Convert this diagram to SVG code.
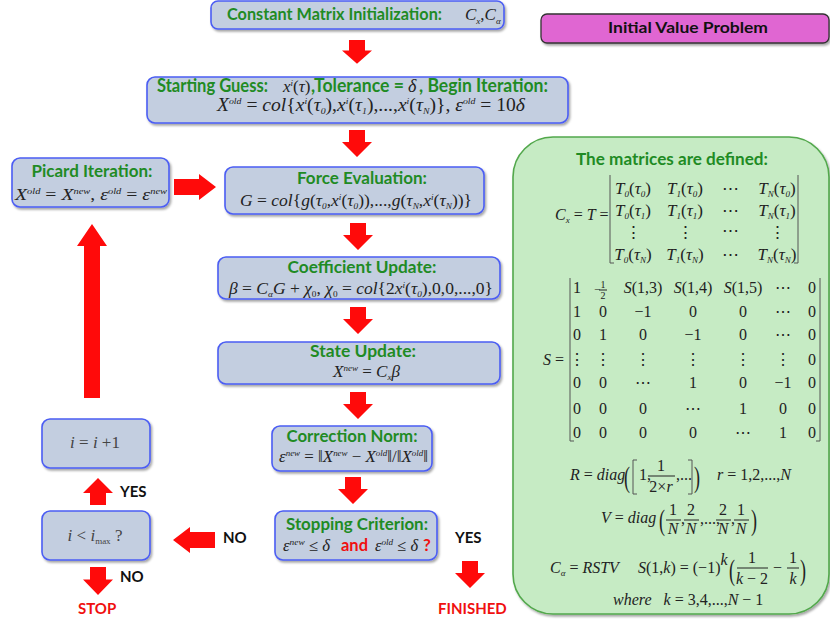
<svg xmlns="http://www.w3.org/2000/svg" width="830" height="621" viewBox="0 0 830 621">
<defs>
<filter id="sh" x="-10%" y="-10%" width="130%" height="140%"><feDropShadow dx="1.5" dy="2" stdDeviation="1.2" flood-color="#000" flood-opacity="0.35"/></filter>
<path id="dn" d="M-8,0H8V12H15L0,27L-15,12H-8Z"/>
<path id="lf" d="M0,0L17,-13V-8H42V8H17V13Z"/>
</defs>
<style>
.n{fill:#c3cee0;stroke:#4b5df3;stroke-width:1.6;filter:url(#sh)}
.h{font-family:Lato,"Liberation Sans",sans-serif;font-weight:700;font-size:17px;fill:#1f8b24}
.m{font-family:"Liberation Serif","DejaVu Serif",serif;font-style:italic;font-size:16px;fill:#222}
.u{font-style:normal}
.s{font-size:9px}
.k{font-family:Lato,"Liberation Sans",sans-serif;font-weight:700;font-size:15px;fill:#111}
.rd{fill:#f01010}
.ar{fill:#ff0a0a}
.br{fill:none;stroke:#555;stroke-width:1}
.fb{stroke:#222;stroke-width:1}
.mx{font-family:"Liberation Serif","DejaVu Serif",serif;font-size:16px;fill:#222;text-anchor:middle}
.bp{font-family:"Liberation Serif","DejaVu Serif",serif;font-size:30px;fill:#222}
</style>

<!-- side panels -->
<g id="ivp">
<rect x="541" y="14" width="288" height="29" rx="6" fill="#e066d2" stroke="#333" stroke-width="1.3" filter="url(#sh)"/>
<text class="k" x="688" y="33" text-anchor="middle" textLength="160" lengthAdjust="spacingAndGlyphs">Initial Value Problem</text>
</g>

<g id="defs-panel">
<rect x="513" y="137" width="316" height="477" rx="40" fill="#c6ebc4" stroke="#52a84c" stroke-width="1.6" filter="url(#sh)"/>
<text class="h" x="672" y="165" text-anchor="middle" textLength="192" lengthAdjust="spacingAndGlyphs">The matrices are defined:</text>
<!-- Cx = T -->
<text class="m" x="555" y="220">C<tspan class="s" dy="3">x</tspan><tspan class="u" dy="-3"> = </tspan>T<tspan class="u"> =</tspan></text>
<path class="br" d="M610,175V263H614M798,175V263H794"/>
<g class="mx" font-style="italic" style="font-size:17px">
<text x="633" y="194">T<tspan class="s" dy="3">0</tspan><tspan class="u" dy="-3">(</tspan>τ<tspan class="s" dy="3">0</tspan><tspan class="u" dy="-3">)</tspan></text>
<text x="685" y="194">T<tspan class="s" dy="3">1</tspan><tspan class="u" dy="-3">(</tspan>τ<tspan class="s" dy="3">0</tspan><tspan class="u" dy="-3">)</tspan></text>
<text x="730" y="194" class="u">⋯</text>
<text x="777" y="194">T<tspan class="s" dy="3">N</tspan><tspan class="u" dy="-3">(</tspan>τ<tspan class="s" dy="3">0</tspan><tspan class="u" dy="-3">)</tspan></text>
<text x="633" y="216">T<tspan class="s" dy="3">0</tspan><tspan class="u" dy="-3">(</tspan>τ<tspan class="s" dy="3">1</tspan><tspan class="u" dy="-3">)</tspan></text>
<text x="685" y="216">T<tspan class="s" dy="3">1</tspan><tspan class="u" dy="-3">(</tspan>τ<tspan class="s" dy="3">1</tspan><tspan class="u" dy="-3">)</tspan></text>
<text x="730" y="216" class="u">⋯</text>
<text x="777" y="216">T<tspan class="s" dy="3">N</tspan><tspan class="u" dy="-3">(</tspan>τ<tspan class="s" dy="3">1</tspan><tspan class="u" dy="-3">)</tspan></text>
<text x="633" y="238" class="u">⋮</text>
<text x="685" y="238" class="u">⋮</text>
<text x="730" y="236" class="u">⋯</text>
<text x="777" y="238" class="u">⋮</text>
<text x="633" y="260">T<tspan class="s" dy="3">0</tspan><tspan class="u" dy="-3">(</tspan>τ<tspan class="s" dy="3">N</tspan><tspan class="u" dy="-3">)</tspan></text>
<text x="685" y="260">T<tspan class="s" dy="3">1</tspan><tspan class="u" dy="-3">(</tspan>τ<tspan class="s" dy="3">N</tspan><tspan class="u" dy="-3">)</tspan></text>
<text x="730" y="260" class="u">⋯</text>
<text x="777" y="260">T<tspan class="s" dy="3">N</tspan><tspan class="u" dy="-3">(</tspan>τ<tspan class="s" dy="3">N</tspan><tspan class="u" dy="-3">)</tspan></text>
</g>
<!-- S matrix -->
<text class="m" x="543" y="365">S<tspan class="u"> =</tspan></text>
<path class="br" d="M570,278V441H574M820,278V441H816"/>
<g class="mx">
<text x="577" y="293">1</text>
<text x="603" y="288" style="font-size:10px">1</text><text x="597" y="293" style="font-size:11px">−</text><line class="fb" x1="599" y1="290" x2="607" y2="290"/><text x="603" y="299" style="font-size:10px">2</text>
<text x="643" y="293"><tspan font-style="italic">S</tspan>(1,3)</text>
<text x="693" y="293"><tspan font-style="italic">S</tspan>(1,4)</text>
<text x="743" y="293"><tspan font-style="italic">S</tspan>(1,5)</text>
<text x="783" y="293">⋯</text><text x="812" y="293">0</text>
<text x="577" y="317">1</text><text x="603" y="317">0</text><text x="643" y="317">−1</text><text x="693" y="317">0</text><text x="743" y="317">0</text><text x="783" y="317">⋯</text><text x="812" y="317">0</text>
<text x="577" y="340">0</text><text x="603" y="340">1</text><text x="643" y="340">0</text><text x="693" y="340">−1</text><text x="743" y="340">0</text><text x="783" y="340">⋯</text><text x="812" y="340">0</text>
<text x="577" y="365">⋮</text><text x="603" y="365">⋮</text><text x="643" y="365">⋮</text><text x="693" y="365">⋮</text><text x="743" y="365">⋮</text><text x="783" y="365">⋮</text><text x="812" y="365">0</text>
<text x="577" y="388">0</text><text x="603" y="388">0</text><text x="643" y="388">⋯</text><text x="693" y="388">1</text><text x="743" y="388">0</text><text x="783" y="388">−1</text><text x="812" y="388">0</text>
<text x="577" y="414">0</text><text x="603" y="414">0</text><text x="643" y="414">0</text><text x="693" y="414">⋯</text><text x="743" y="414">1</text><text x="783" y="414">0</text><text x="812" y="414">0</text>
<text x="577" y="438">0</text><text x="603" y="438">0</text><text x="643" y="438">0</text><text x="693" y="438">0</text><text x="743" y="438">⋯</text><text x="783" y="438">1</text><text x="812" y="438">0</text>
</g>
<!-- R -->
<text class="m" x="570" y="480">R<tspan class="u"> = </tspan>diag</text>
<text class="bp" x="624" y="487" transform="translate(624,487) scale(0.6,1) translate(-624,-487)">(</text>
<path class="br" stroke="#222" d="M637,460H633V494H637"/>
<text class="m u" x="639" y="480">1,</text>
<text class="m u" x="661" y="471" text-anchor="middle">1</text>
<line class="fb" x1="648" y1="476" x2="675" y2="476"/>
<text class="m" x="661" y="492" text-anchor="middle"><tspan class="u">2×</tspan>r</text>
<text class="m u" x="676" y="480">,...</text>
<path class="br" stroke="#222" d="M688,460H692V494H688"/>
<text class="bp" x="694" y="487" transform="translate(694,487) scale(0.6,1) translate(-694,-487)">)</text>
<text class="m" x="717" y="480">r<tspan class="u"> = 1,2,...,</tspan>N</text>
<!-- V -->
<text class="m" x="601" y="523">V<tspan class="u"> = </tspan>diag</text>
<text class="bp" x="659" y="530" transform="translate(659,530) scale(0.6,1) translate(-659,-530)">(</text>
<g class="m" text-anchor="middle">
<text x="673" y="515" class="u">1</text><text x="673" y="534">N</text>
<text x="691" y="515" class="u">2</text><text x="691" y="534">N</text>
<text x="723" y="515" class="u">2</text><text x="723" y="534">N</text>
<text x="741" y="515" class="u">1</text><text x="741" y="534">N</text>
</g>
<path class="fb" d="M666,520H681M684,520H699M716,520H731M734,520H749"/>
<text class="m u" x="681" y="524">,</text>
<text class="m u" x="700" y="524">,...,</text>
<text class="m u" x="731" y="524">,</text>
<text class="bp" x="751" y="530" transform="translate(751,530) scale(0.6,1) translate(-751,-530)">)</text>
<!-- C alpha -->
<text class="m" x="550" y="573">C<tspan class="s" dy="3">α</tspan><tspan class="u" dy="-3"> = </tspan>RSTV</text>
<text class="m" x="638" y="573">S<tspan class="u">(1,</tspan>k<tspan class="u">) = (−1)</tspan><tspan dy="-8">k</tspan></text>
<text class="bp" x="729" y="580" transform="translate(729,580) scale(0.6,1) translate(-729,-580)">(</text>
<text class="m u" x="752" y="563" text-anchor="middle">1</text>
<line class="fb" x1="737" y1="568" x2="768" y2="568"/>
<text class="m" x="752" y="584" text-anchor="middle">k<tspan class="u"> − 2</tspan></text>
<text class="m u" x="773" y="573">−</text>
<text class="m u" x="793" y="563" text-anchor="middle">1</text>
<line class="fb" x1="787" y1="568" x2="799" y2="568"/>
<text class="m" x="793" y="584" text-anchor="middle">k</text>
<text class="bp" x="800" y="580" transform="translate(800,580) scale(0.6,1) translate(-800,-580)">)</text>
<text class="m" x="613" y="605">where<tspan dx="12">k</tspan><tspan class="u"> = 3,4,...,</tspan>N<tspan class="u"> − 1</tspan></text>
</g>

<!-- nodes -->
<g id="init">
<rect class="n" x="211" y="1" width="293" height="28" rx="7"/>
<text class="h" x="227" y="20" style="font-size:17px" textLength="215" lengthAdjust="spacingAndGlyphs">Constant Matrix Initialization:</text>
<text class="m" x="465" y="20" style="font-size:17px">C<tspan class="s" dy="4">x</tspan><tspan class="u" dy="-4">,</tspan>C<tspan class="s" dy="4">α</tspan></text>
</g>

<g id="start">
<rect class="n" x="147" y="77" width="421" height="46" rx="8"/>
<text class="h" x="157" y="92" style="font-size:18px" textLength="111" lengthAdjust="spacingAndGlyphs">Starting Guess:</text>
<text class="m" x="283" y="92" style="font-size:17px">x<tspan class="s" dy="-6">i</tspan><tspan class="u" dy="6">(</tspan>τ<tspan class="u">)</tspan></text>
<text class="h" x="311" y="92" style="font-size:18px" textLength="93" lengthAdjust="spacingAndGlyphs">,Tolerance =</text>
<text class="m" x="408" y="92" style="font-size:18px">δ</text>
<text class="h" x="419" y="92" style="font-size:18px" textLength="129" lengthAdjust="spacingAndGlyphs">, Begin Iteration:</text>
<text class="m" x="217" y="111" style="font-size:18px" textLength="308" lengthAdjust="spacingAndGlyphs">X<tspan class="s" dy="-7">old</tspan><tspan class="u" dy="7"> = </tspan>col<tspan class="u">{</tspan>x<tspan class="s" dy="-7">i</tspan><tspan class="u" dy="7">(</tspan>τ<tspan class="s" dy="3">0</tspan><tspan class="u" dy="-3">),</tspan>x<tspan class="s" dy="-7">i</tspan><tspan class="u" dy="7">(</tspan>τ<tspan class="s" dy="3">1</tspan><tspan class="u" dy="-3">),...,</tspan>x<tspan class="s" dy="-7">i</tspan><tspan class="u" dy="7">(</tspan>τ<tspan class="s" dy="3">N</tspan><tspan class="u" dy="-3">)},    </tspan>ε<tspan class="s" dy="-7">old</tspan><tspan class="u" dy="7"> = 10</tspan>δ</text>
</g>

<g id="picard">
<rect class="n" x="12" y="158" width="157" height="49" rx="8"/>
<text class="h" x="92" y="177" text-anchor="middle" textLength="121" lengthAdjust="spacingAndGlyphs">Picard Iteration:</text>
<text class="m" x="15" y="200" style="font-size:17px" textLength="152" lengthAdjust="spacingAndGlyphs">X<tspan class="s" dy="-6">old</tspan><tspan class="u" dy="6"> = </tspan>X<tspan class="s" dy="-6">new</tspan><tspan class="u" dy="6">,    </tspan>ε<tspan class="s" dy="-6">old</tspan><tspan class="u" dy="6"> = </tspan>ε<tspan class="s" dy="-6">new</tspan></text>
</g>

<g id="force">
<rect class="n" x="225" y="167" width="259" height="47" rx="8"/>
<text class="h" x="362" y="184" text-anchor="middle" textLength="130" lengthAdjust="spacingAndGlyphs">Force Evaluation:</text>
<text class="m" x="240" y="206" style="font-size:17px" textLength="232" lengthAdjust="spacingAndGlyphs">G<tspan class="u"> = </tspan>col<tspan class="u">{</tspan>g<tspan class="u">(</tspan>τ<tspan class="s" dy="3">0</tspan><tspan class="u" dy="-3">,</tspan>x<tspan class="s" dy="-6">i</tspan><tspan class="u" dy="6">(</tspan>τ<tspan class="s" dy="3">0</tspan><tspan class="u" dy="-3">)),...,</tspan>g<tspan class="u">(</tspan>τ<tspan class="s" dy="3">N</tspan><tspan class="u" dy="-3">,</tspan>x<tspan class="s" dy="-6">i</tspan><tspan class="u" dy="6">(</tspan>τ<tspan class="s" dy="3">N</tspan><tspan class="u" dy="-3">))}</tspan></text>
</g>

<g id="coef">
<rect class="n" x="218" y="257" width="282" height="42" rx="8"/>
<text class="h" x="362" y="273" text-anchor="middle" textLength="149" lengthAdjust="spacingAndGlyphs">Coefficient Update:</text>
<text class="m" x="229" y="294" style="font-size:17px" textLength="264" lengthAdjust="spacingAndGlyphs">β<tspan class="u"> = </tspan>C<tspan class="s" dy="3">α</tspan><tspan dy="-3">G</tspan><tspan class="u"> + </tspan>χ<tspan class="s u" dy="3">0</tspan><tspan class="u" dy="-3">,     </tspan>χ<tspan class="s u" dy="3">0</tspan><tspan class="u" dy="-3"> = </tspan>col<tspan class="u">{2</tspan>x<tspan class="s" dy="-6">i</tspan><tspan class="u" dy="6">(</tspan>τ<tspan class="s" dy="3">0</tspan><tspan class="u" dy="-3">),0,0,...,0}</tspan></text>
</g>

<g id="state">
<rect class="n" x="218" y="342" width="282" height="42" rx="8"/>
<text class="h" x="363" y="357" text-anchor="middle" textLength="106" lengthAdjust="spacingAndGlyphs">State Update:</text>
<text class="m" x="333" y="377" style="font-size:17px" textLength="67" lengthAdjust="spacingAndGlyphs">X<tspan class="s" dy="-6">new</tspan><tspan class="u" dy="6"> = </tspan>C<tspan class="s" dy="3">x</tspan><tspan dy="-3">β</tspan></text>
</g>

<g id="norm">
<rect class="n" x="272" y="426" width="160" height="45" rx="8"/>
<text class="h" x="352" y="442" text-anchor="middle" textLength="131" lengthAdjust="spacingAndGlyphs">Correction Norm:</text>
<text class="m" x="279" y="462" style="font-size:17px" textLength="149" lengthAdjust="spacingAndGlyphs">ε<tspan class="s" dy="-6">new</tspan><tspan class="u" dy="6"> = ‖</tspan>X<tspan class="s" dy="-6">new</tspan><tspan class="u" dy="6"> − </tspan>X<tspan class="s" dy="-6">old</tspan><tspan class="u" dy="6">‖/‖</tspan>X<tspan class="s" dy="-6">old</tspan><tspan class="u" dy="6">‖</tspan></text>
</g>

<g id="stop">
<rect class="n" x="275" y="511" width="162" height="49" rx="8"/>
<text class="h" x="357" y="530" text-anchor="middle" textLength="142" lengthAdjust="spacingAndGlyphs">Stopping Criterion:</text>
<text class="m" x="283" y="551" textLength="47" lengthAdjust="spacingAndGlyphs">ε<tspan class="s" dy="-6">new</tspan><tspan class="u" dy="6"> ≤ </tspan>δ</text>
<text class="h rd" x="341" y="551" textLength="27" lengthAdjust="spacingAndGlyphs">and</text>
<text class="m" x="375" y="551" textLength="43" lengthAdjust="spacingAndGlyphs">ε<tspan class="s" dy="-6">old</tspan><tspan class="u" dy="6"> ≤ </tspan>δ</text>
<text class="h rd" x="423" y="551">?</text>
</g>

<g id="incr">
<rect class="n" x="42" y="419" width="108" height="49" rx="8"/>
<text class="m" x="95" y="448" text-anchor="middle" style="font-size:17px;fill:#444">i<tspan class="u"> = </tspan>i<tspan class="u"> +1</tspan></text>
</g>

<g id="check">
<rect class="n" x="42" y="511" width="108" height="49" rx="8"/>
<text class="m" x="95" y="541" text-anchor="middle" style="font-size:17px;fill:#444">i<tspan class="u"> &lt; </tspan>i<tspan class="s u" dy="3">max</tspan><tspan class="u" dy="-3"> ?</tspan></text>
</g>

<!-- connectors -->
<g id="connectors" class="ar">
<use href="#dn" transform="translate(357,40) scale(1,0.88)"/>
<use href="#dn" transform="translate(357,130)"/>
<use href="#dn" transform="translate(358,223)"/>
<use href="#dn" transform="translate(358,307)"/>
<use href="#dn" transform="translate(358,392)"/>
<use href="#dn" transform="translate(353,477)"/>
<use href="#dn" transform="translate(470,561)"/>
<use href="#dn" transform="translate(98,567) scale(1,1.04)"/>
<use href="#dn" transform="translate(98,505) rotate(180)"/>
<use href="#lf" transform="translate(173,540)"/>
<use href="#lf" transform="translate(216,187) scale(-1,1)"/>
<path d="M92,224L107,246H100V398H84V246H77Z"/>
</g>

<g id="labels">
<text class="k" x="120" y="497">YES</text>
<text class="k" x="223" y="543">NO</text>
<text class="k" x="120" y="582">NO</text>
<text class="k" x="455" y="543">YES</text>
<text class="k rd" x="78" y="614">STOP</text>
<text class="k rd" x="438" y="614">FINISHED</text>
</g>
</svg>
